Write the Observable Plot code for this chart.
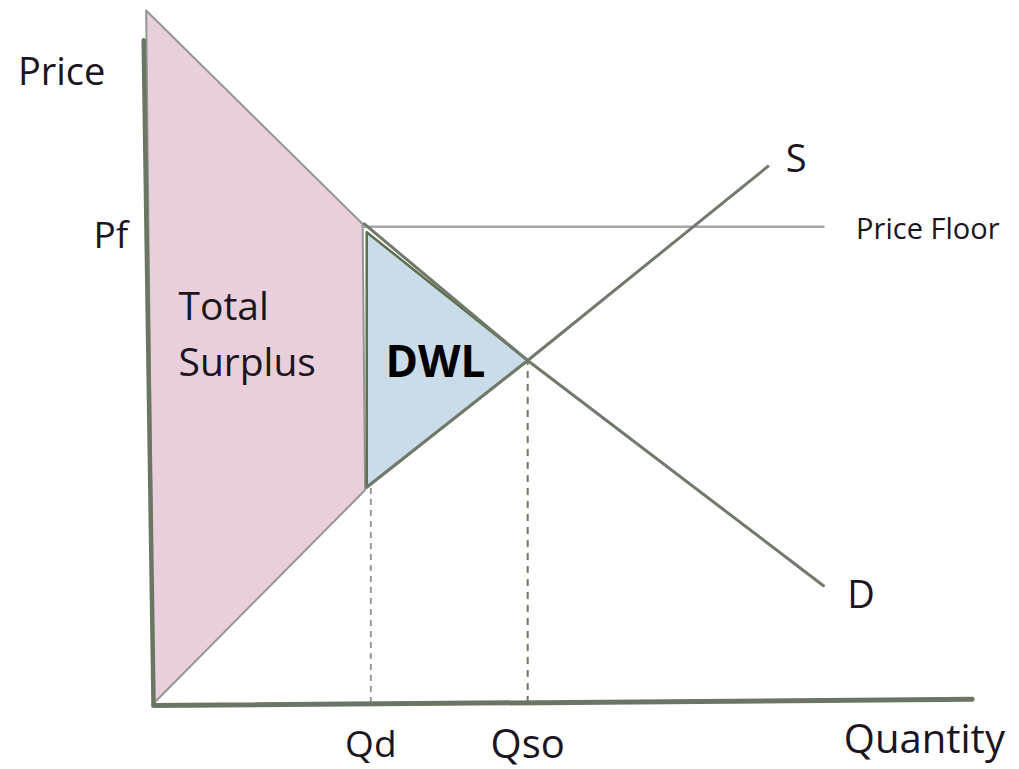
<!DOCTYPE html>
<html><head><meta charset="utf-8">
<script src="https://cdn.jsdelivr.net/npm/d3@7"></script>
<script src="https://cdn.jsdelivr.net/npm/@observablehq/plot@0.6"></script>
<style>html,body{margin:0;padding:0;background:#fff}#chart svg{display:block}</style>
</head><body><div id="chart"></div>
<script>
// Key economic values (quantity / price units, 0–100)
const Qd = 26.6, Qso = 45.8, Peq = 49.5, Pf = 68.8;
// Curves and regions as [quantity, price]
const demand = [[-0.9,100],[25.8,69.2],[45.8,49.5],[82.0,17.0]];
const supply = [[0,0],[26.1,31.2],[45.8,49.5],[75.2,77.5]];
const surplusArea = [[-0.9,100],[25.6,69.2],[25.9,30.8],[0,0],[-0.9,100]];
const dwlArea = [[26.1,68.0],[45.8,49.5],[26.1,31.2],[26.1,68.0]];
const priceFloor = [[25.6,Pf],[82.0,Pf]];
const yAxisLine = [[-1.2,95.7],[0,0]];
const xAxisLine = [[0,-0.3],[100.2,0.6]];
// Text labels
const yLabel = ["Price"], xLabel = ["Quantity"];
const pfLabel = ["Pf"], qdLabel = ["Qd"], qsoLabel = ["Qso"];
const sLabel = ["S"], dLabel = ["D"], floorLabel = ["Price Floor"];
const surplusLabel = ["Total", "Surplus"], dwlLabel = ["DWL"];

const font = "Open Sans";
const ink = "#1c1420";
const axisColor = "#6b7563";
const T = (arr, o) => Plot.text(arr, {text: d => d, fill: ink, fontFamily: font, lineAnchor: "middle", ...o});

const chart = Plot.plot({
  width: 1019, height: 769,
  marginLeft: 153, marginRight: 49, marginTop: 10, marginBottom: 66,
  x: {domain: [0, 100], axis: null},
  y: {domain: [0, 100], axis: null},
  style: {fontFamily: font, background: "#fff", overflow: "visible"},
  marks: [
    Plot.line(surplusArea, {x: d => d[0], y: d => d[1], fill: "#e8cfdb", stroke: "#959595", strokeWidth: 2}),
    Plot.ruleX([Qd], {y1: 0, y2: Pf, stroke: "#9a9a9a", strokeWidth: 2, strokeDasharray: "6,5"}),
    Plot.line(dwlArea, {x: d => d[0], y: d => d[1], fill: "#cadcea", stroke: "#5e6e4e", strokeWidth: 2.5}),
    Plot.line(priceFloor, {x: d => d[0], y: d => d[1], stroke: "#a3a8a3", strokeWidth: 2.5}),
    Plot.ruleX([Qso], {y1: 0, y2: Peq, stroke: "#6b7a5a", strokeWidth: 2, strokeDasharray: "7,6"}),
    Plot.line(supply.slice(1), {x: d => d[0], y: d => d[1], stroke: "#6f7a6a", strokeWidth: 3}),
    Plot.line(demand.slice(1), {x: d => d[0], y: d => d[1], stroke: "#6f7a6a", strokeWidth: 3}),
    Plot.line(yAxisLine, {x: d => d[0], y: d => d[1], stroke: axisColor, strokeWidth: 4.5}),
    Plot.line(xAxisLine, {x: d => d[0], y: d => d[1], stroke: axisColor, strokeWidth: 5}),
    T(yLabel, {x: -16.6, y: 91.0, textAnchor: "start", fontSize: 38}),
    T(pfLabel, {x: -3.1, y: 67.4, textAnchor: "end", fontSize: 37}),
    T(sLabel, {x: 77.4, y: 78.4, textAnchor: "start", fontSize: 38}),
    T(floorLabel, {x: 86.0, y: 68.4, textAnchor: "start", fontSize: 29}),
    T(dLabel, {x: 84.9, y: 15.6, textAnchor: "start", fontSize: 38}),
    T(xLabel, {x: 84.5, y: -5.3, textAnchor: "start", fontSize: 40}),
    T(qdLabel, {x: Qd, y: -6.0, textAnchor: "middle", fontSize: 37}),
    T(qsoLabel, {x: Qso, y: -6.0, textAnchor: "middle", fontSize: 40}),
    T(surplusLabel.slice(0,1), {x: 3.06, y: 57.1, textAnchor: "start", fontSize: 39}),
    T(surplusLabel.slice(1), {x: 3.06, y: 49.1, textAnchor: "start", fontSize: 39}),
    T(dwlLabel, {x: 34.5, y: 49.1, textAnchor: "middle", fontSize: 44, fontWeight: "bold", fill: "#000"})
  ]
});
document.getElementById("chart").appendChild(chart);
</script>
</body></html>
